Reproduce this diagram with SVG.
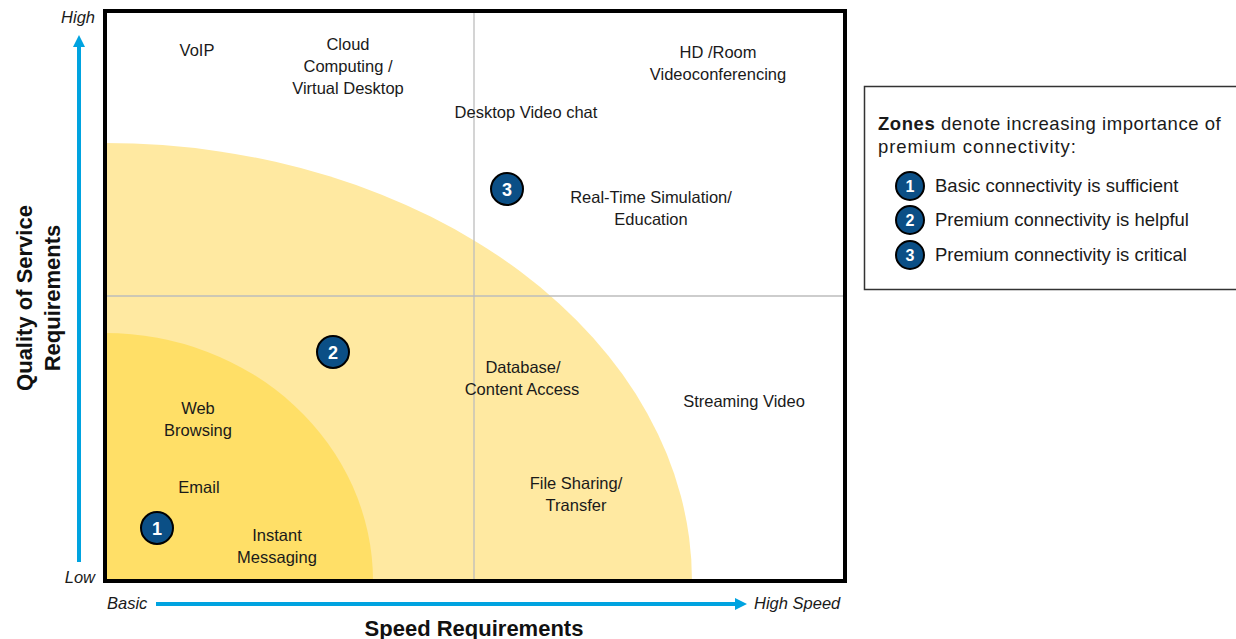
<svg xmlns="http://www.w3.org/2000/svg" width="1236" height="639" viewBox="0 0 1236 639">
<defs>
<style>
.t{font-family:"Liberation Sans",Arial,sans-serif;font-size:16.5px;fill:#1a1a1a;text-anchor:middle}
.ax{font-family:"Liberation Sans",Arial,sans-serif;font-size:16.5px;font-style:italic;fill:#1a1a1a}
.ttl{font-family:"Liberation Sans",Arial,sans-serif;font-size:22px;font-weight:bold;fill:#111;text-anchor:middle}
.lg{font-family:"Liberation Sans",Arial,sans-serif;font-size:18.5px;fill:#1a1a1a}
.bd{fill:#0b4f86;stroke:#000;stroke-width:2}
.bn{font-family:"Liberation Sans",Arial,sans-serif;font-weight:bold;fill:#fff;text-anchor:middle}
.grid{stroke:#bdbdbd;stroke-width:1.3}
.arr{stroke:#00a3e0;stroke-width:4;fill:none}
</style>
</defs>
<rect width="1236" height="639" fill="#fff"/>
<g id="zones">
<path d="M105 581 L105 143 A587 438 0 0 1 692 581 Z" fill="#ffe9a1"/>
<path d="M105 581 L105 333 A268 248 0 0 1 373 581 Z" fill="#ffdf67"/>
</g>
<g id="grid">
<line class="grid" x1="474" y1="11" x2="474" y2="581"/>
<line class="grid" x1="105" y1="296" x2="845" y2="296"/>
</g>
<rect id="frame" x="105" y="11" width="740" height="570" fill="none" stroke="#000" stroke-width="4"/>
<g id="connectors">
<line class="arr" x1="79" y1="562" x2="79" y2="45"/>
<polygon points="79,35 73,47 85,47" fill="#00a3e0"/>
<line class="arr" x1="156" y1="604" x2="737" y2="604"/>
<polygon points="747,604 735,598 735,610" fill="#00a3e0"/>
</g>
<g id="axis-labels">
<text class="ax" x="95" y="23" text-anchor="end">High</text>
<text class="ax" x="95" y="583" text-anchor="end">Low</text>
<text class="ax" x="107" y="609">Basic</text>
<text class="ax" x="754" y="609">High Speed</text>
<text class="ttl" x="474" y="636">Speed Requirements</text>
<text class="ttl" transform="translate(38,298) rotate(-90)"><tspan x="0" y="-6">Quality of Service</tspan><tspan x="0" y="22">Requirements</tspan></text>
</g>
<g id="n-voip"><text class="t" x="197" y="56">VoIP</text></g>
<g id="n-cloud"><text class="t" x="348" y="50">Cloud</text><text class="t" x="348" y="72">Computing /</text><text class="t" x="348" y="94">Virtual Desktop</text></g>
<g id="n-hd"><text class="t" x="718" y="58">HD /Room</text><text class="t" x="718" y="80">Videoconferencing</text></g>
<g id="n-desktop"><text class="t" x="526" y="118">Desktop Video chat</text></g>
<g id="n-realtime"><text class="t" x="651" y="203">Real-Time Simulation/</text><text class="t" x="651" y="225">Education</text></g>
<g id="n-database"><text class="t" x="523" y="373">Database/</text><text class="t" x="522" y="395">Content Access</text></g>
<g id="n-streaming"><text class="t" x="744" y="407">Streaming Video</text></g>
<g id="n-web"><text class="t" x="198" y="414">Web</text><text class="t" x="198" y="436">Browsing</text></g>
<g id="n-email"><text class="t" x="199" y="493">Email</text></g>
<g id="n-im"><text class="t" x="277" y="541">Instant</text><text class="t" x="277" y="563">Messaging</text></g>
<g id="n-file"><text class="t" x="576" y="489">File Sharing/</text><text class="t" x="576" y="511">Transfer</text></g>
<g id="badge-1"><circle class="bd" cx="157" cy="528" r="16"/><text class="bn" x="157" y="534.5" font-size="18">1</text></g>
<g id="badge-2"><circle class="bd" cx="333" cy="352" r="16"/><text class="bn" x="333" y="358.5" font-size="18">2</text></g>
<g id="badge-3"><circle class="bd" cx="507" cy="189" r="16"/><text class="bn" x="507" y="195.5" font-size="18">3</text></g>
<g id="legend">
<rect x="864.5" y="86.5" width="400" height="203" fill="#fff" stroke="#333" stroke-width="1.5"/>
<text class="lg" x="878" y="130" font-size="21" letter-spacing="0.55"><tspan font-weight="bold">Zones</tspan> denote increasing importance of</text>
<text class="lg" x="878" y="153" font-size="21" letter-spacing="0.95">premium connectivity:</text>
<circle class="bd" cx="910" cy="186" r="14"/><text class="bn" x="910" y="191.5" font-size="16">1</text>
<text class="lg" x="935" y="192">Basic connectivity is sufficient</text>
<circle class="bd" cx="910" cy="220" r="14"/><text class="bn" x="910" y="225.5" font-size="16">2</text>
<text class="lg" x="935" y="226">Premium connectivity is helpful</text>
<circle class="bd" cx="910" cy="255" r="14"/><text class="bn" x="910" y="260.5" font-size="16">3</text>
<text class="lg" x="935" y="261">Premium connectivity is critical</text>
</g>
</svg>
